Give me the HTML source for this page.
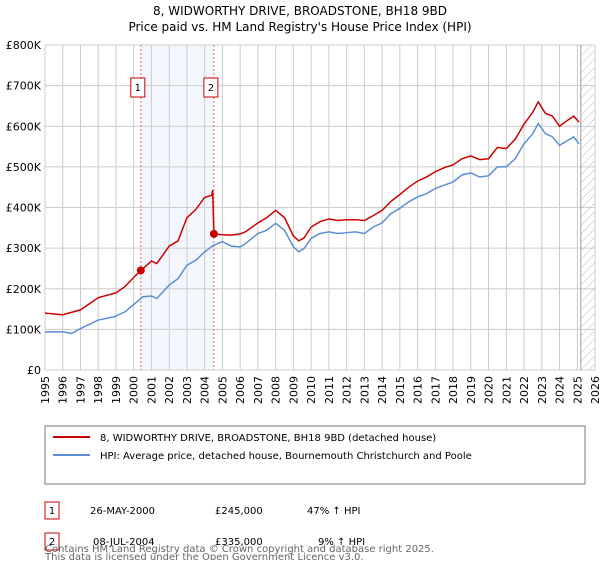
<!DOCTYPE html>
<html><head><meta charset="utf-8"><style>
body{margin:0;background:#fff;font-family:"Liberation Sans","DejaVu Sans",sans-serif;}
</style></head><body>
<svg width="600" height="560" xmlns="http://www.w3.org/2000/svg" font-family="DejaVu Sans, Liberation Sans, sans-serif">
<text x="300" y="15" font-size="12" text-anchor="middle">8, WIDWORTHY DRIVE, BROADSTONE, BH18 9BD</text>
<text x="300" y="31" font-size="12" text-anchor="middle">Price paid vs. HM Land Registry's House Price Index (HPI)</text>
<defs><pattern id="hatch" width="6" height="6" patternUnits="userSpaceOnUse" patternTransform="rotate(45)"><line x1="0" y1="0" x2="0" y2="6" stroke="#bbb" stroke-width="1"/></pattern></defs>
<g id="plot"></g>
<rect x="45" y="426" width="540" height="58" fill="#fff" stroke="#777" stroke-width="1"/>
<line x1="53" y1="437" x2="90" y2="437" stroke="#cc0000" stroke-width="2"/>
<text x="100" y="441" font-size="10">8, WIDWORTHY DRIVE, BROADSTONE, BH18 9BD (detached house)</text>
<line x1="53" y1="455" x2="90" y2="455" stroke="#5b8fd4" stroke-width="2"/>
<text x="100" y="459" font-size="10">HPI: Average price, detached house, Bournemouth Christchurch and Poole</text>
<rect x="45" y="502" width="14" height="17" fill="#fff" stroke="#cc0000"/>
<text x="52" y="514" font-size="10" text-anchor="middle">1</text>
<text x="90" y="514" font-size="10">26-MAY-2000</text>
<text x="215" y="514" font-size="10">£245,000</text>
<text x="307" y="514" font-size="10">47% ↑ HPI</text>
<rect x="45" y="533" width="14" height="17" fill="#fff" stroke="#cc0000"/>
<text x="52" y="545" font-size="10" text-anchor="middle">2</text>
<text x="93" y="545" font-size="10">08-JUL-2004</text>
<text x="215" y="545" font-size="10">£335,000</text>
<text x="318" y="545" font-size="10">9% ↑ HPI</text>
<text x="45" y="552" font-size="10" fill="#666">Contains HM Land Registry data © Crown copyright and database right 2025.</text>
<text x="45" y="560" font-size="10" fill="#666">This data is licensed under the Open Government Licence v3.0.</text>
</svg>
<script>
const hpiDates=[1995,1996,1996.5,1997,1998,1998.9,1999.5,2000,2000.5,2001,2001.3,2002,2002.5,2003,2003.5,2004,2004.5,2005,2005.5,2006,2006.3,2007,2007.5,2008,2008.5,2009,2009.3,2009.6,2010,2010.5,2011,2011.5,2012,2012.5,2013,2013.5,2014,2014.5,2015,2015.5,2016,2016.5,2017,2017.5,2018,2018.5,2019,2019.5,2020,2020.5,2021,2021.5,2022,2022.5,2022.8,2023.2,2023.6,2024,2024.3,2024.8,2025.1];
const hpiValues=[94,94,90,102,123,131,143,161,180,182,176,209,225,258,270,291,307,316,305,303,311,336,344,361,344,303,291,299,324,336,340,336,338,340,336,352,362,385,398,414,426,434,447,455,463,480,485,475,478,500,500,520,557,582,607,582,574,553,561,574,557];
const priceDates=[1995,1996,1997,1998,1999,1999.5,2000,2000.4,2001,2001.3,2002,2002.5,2003,2003.5,2004,2004.4,2004.45,2004.52,2005,2005.5,2006,2006.3,2007,2007.5,2008,2008.5,2009,2009.3,2009.6,2010,2010.5,2011,2011.5,2012,2012.5,2013,2013.5,2014,2014.5,2015,2015.5,2016,2016.5,2017,2017.5,2018,2018.5,2019,2019.5,2020,2020.5,2021,2021.5,2022,2022.5,2022.8,2023.2,2023.6,2024,2024.3,2024.8,2025.1];
const priceValues=[140,136,148,178,190,205,228,245,268,262,305,318,375,395,425,430,443,335,333,332,335,340,362,375,393,375,330,318,325,352,365,372,368,370,370,368,380,393,415,432,450,465,475,488,498,505,520,527,518,520,548,545,568,605,635,660,632,625,600,610,625,610];
const saleDates=[2000.4,2004.52];
const saleValues=[245,335];
const saleLabels=["1","2"];
const yTicks=[0,100,200,300,400,500,600,700,800];
const yTickLabels=["£0","£100K","£200K","£300K","£400K","£500K","£600K","£700K","£800K"];
const xTicks=[1995,1996,1997,1998,1999,2000,2001,2002,2003,2004,2005,2006,2007,2008,2009,2010,2011,2012,2013,2014,2015,2016,2017,2018,2019,2020,2021,2022,2023,2024,2025,2026];
const NS="http://www.w3.org/2000/svg";
const L=45,R=595,T=45,B=370,X0=1995,X1=2026,YMAX=800,HATCH=2025.2;
const xs=v=>L+(v-X0)/(X1-X0)*(R-L);
const ys=v=>B-v/YMAX*(B-T);
const g=document.getElementById('plot');
function mk(tag,attrs){const e=document.createElementNS(NS,tag);for(const k in attrs)e.setAttribute(k,attrs[k]);g.appendChild(e);return e;}
let e=mk('rect',{x:xs(saleDates[0]),y:T,width:xs(saleDates[1])-xs(saleDates[0]),height:B-T,fill:'#eef3fc',opacity:0.7});


xTicks.forEach(t=>{const l=mk('line',{x1:xs(t),x2:xs(t),y1:T,y2:B,stroke:'#ccc','stroke-width':1});


const tx=mk('text',{x:0,y:0,'font-size':11,'text-anchor':'end',transform:`translate(${xs(t)+4},${B+6}) rotate(-90)`});tx.textContent=t;

});
yTicks.forEach((t,i)=>{const l=mk('line',{x1:L,x2:R,y1:ys(t),y2:ys(t),stroke:'#ccc','stroke-width':1});


const tx=mk('text',{x:L-4,y:ys(t)+4,'font-size':11,'text-anchor':'end'});tx.textContent=yTickLabels[i];

});
e=mk('rect',{x:xs(HATCH),y:T,width:R-xs(HATCH),height:B-T,fill:'url(#hatch)'});


e=mk('line',{x1:xs(HATCH),x2:xs(HATCH),y1:T,y2:B,stroke:'#999','stroke-width':1});


saleDates.forEach((d,i)=>{const l=mk('line',{x1:xs(d),x2:xs(d),y1:T,y2:B,stroke:'#e06666','stroke-width':1,'stroke-dasharray':'2,2'});


const r=mk('rect',{x:xs(d)-10,y:78,width:14,height:19,fill:'#fff',stroke:'#cc0000'});


const tx=mk('text',{x:xs(d)-3,y:91,'font-size':10,'text-anchor':'middle'});tx.textContent=saleLabels[i];

});
e=mk('polyline',{points:hpiDates.map((d,i)=>xs(d)+','+ys(hpiValues[i])).join(' '),fill:'none',stroke:'#5b8fd4','stroke-width':1.5});


e=mk('polyline',{points:priceDates.map((d,i)=>xs(d)+','+ys(priceValues[i])).join(' '),fill:'none',stroke:'#cc0000','stroke-width':1.5});


saleDates.forEach((d,i)=>{const c=mk('circle',{cx:xs(d),cy:ys(saleValues[i]),r:4,fill:'#cc0000'});

});
</script>
</body></html>
